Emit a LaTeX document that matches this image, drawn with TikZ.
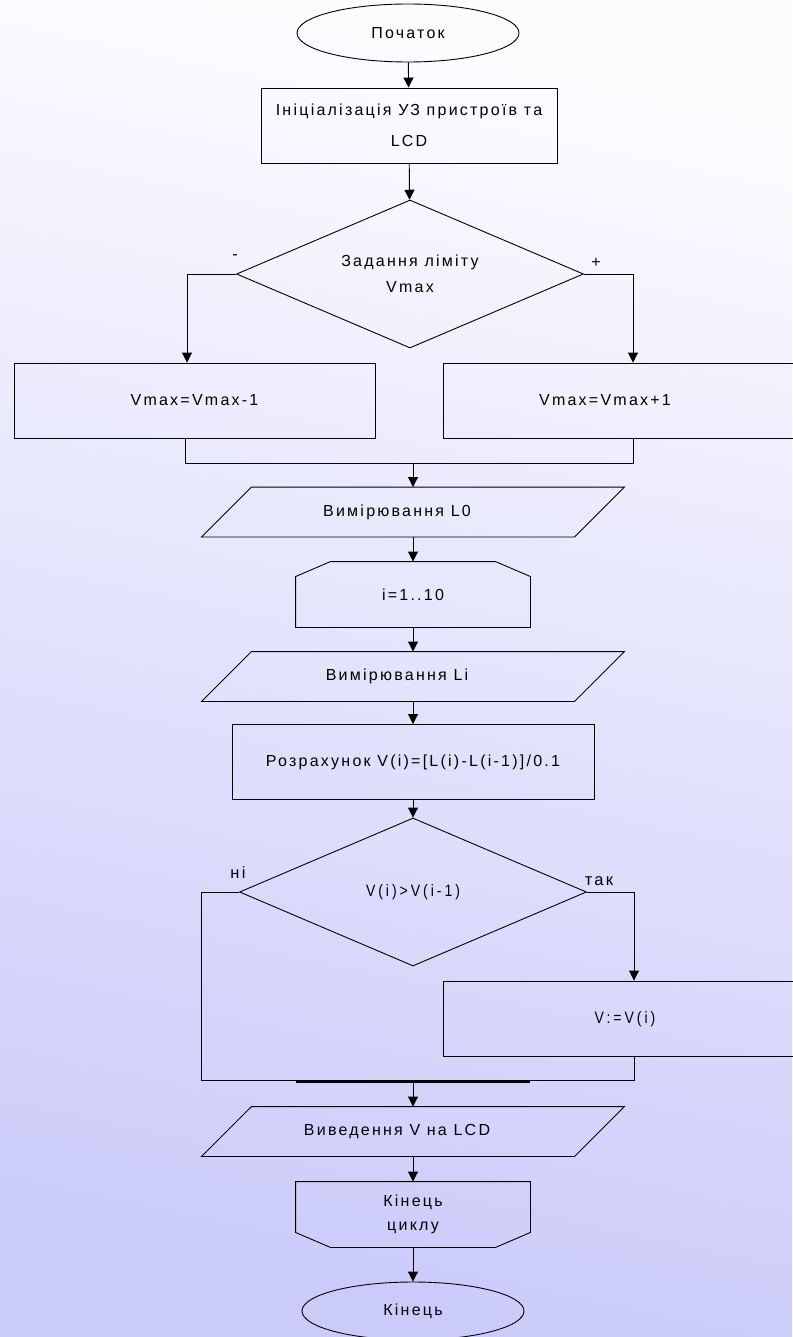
\documentclass[tikz,border=0pt]{standalone}
\usepackage{fontspec}
\usepackage{xcolor}
\setmainfont{Liberation Sans}
\newfontfamily\spaced{Liberation Sans}[LetterSpace=14]
\newfontfamily\narrowsp{Liberation Sans}[LetterSpace=18,FakeStretch=0.85]
\usetikzlibrary{arrows.meta,shapes.geometric}
\definecolor{bgtop}{RGB}{252,252,255}
\definecolor{bgbot}{RGB}{203,203,250}
\newcommand{\ioshape}[1]{\draw ([xshift=-25pt]#1.south west) -- ([xshift=-25pt]#1.south east) -- ([xshift=25pt]#1.north east) -- ([xshift=25pt]#1.north west) -- cycle;}
\newcommand{\loopopen}[1]{\draw (#1.south west) -- ([yshift=-15pt]#1.north west) -- ([xshift=35pt]#1.north west) -- ([xshift=-35pt]#1.north east) -- ([yshift=-15pt]#1.north east) -- (#1.south east) -- cycle;}
\newcommand{\loopclose}[1]{\draw (#1.north west) -- (#1.north east) -- ([yshift=15pt]#1.south east) -- ([xshift=-35pt]#1.south east) -- ([xshift=35pt]#1.south west) -- ([yshift=15pt]#1.south west) -- cycle;}

\begin{document}
\begin{tikzpicture}[x=1pt, y=-1pt, line width=0.9pt,
  every node/.style={font=\spaced\fontsize{16}{19}\selectfont, inner sep=0pt},
  arr/.style={-{Triangle[width=10pt,length=10pt]}},
  term/.style={ellipse, draw=black, minimum width=222pt, minimum height=58pt},
  block/.style={rectangle, draw=black, minimum height=75pt},
  cond/.style={diamond, aspect=2.34, draw=black, minimum width=347pt, minimum height=148pt},
  io/.style={rectangle, minimum width=372pt, minimum height=49pt, execute at begin node={\hspace*{-32pt}}},
  cyc/.style={rectangle, minimum width=234pt, minimum height=65pt},
  tag/.style={font=\spaced\fontsize{16.5}{19}\selectfont}]
% background
\shade[top color=bgtop, bottom color=bgbot, shading angle=-12] (0,0) rectangle (792,1337);
\useasboundingbox (0,0) rectangle (792,1337);
% Start and setup
\node[term] (start) at (408,33) {Початок};
\node[block, minimum width=296pt, align=center] (init) at (409,125.5) {Ініціалізація УЗ пристроїв та\\[12pt]LCD};
\draw[arr] (start) -- (init);
% Limit
\node[cond, align=center] (limit) at (410,274) {Задання ліміту\\[7pt]Vmax};
\draw[arr] (init) -- (limit);
\node (minus) at (235,257) {-};
\node (plus) at (596,263) {+};
\node[block, minimum width=361pt] (dec) at (194.5,400.5) {Vmax=Vmax-1};
\node[block, minimum width=380pt] (inc) at (633,400.5) {};
\node (inctxt) at (605,400.5) {Vmax=Vmax+1};
\coordinate (bl) at (187,274);
\coordinate (jl) at (185,463);
\coordinate (m1) at (413,463);
\draw[arr] (limit.west) -- (bl) -- (bl |- dec.north);
\draw[arr] (limit.east) -| (inc.north);
\draw (dec.south -| jl) -- (jl) -| (inc.south);
% Measuring loop
\node[io] (meas0) at (413,512) {Вимірювання L0};
\ioshape{meas0}
\draw[arr] (m1) -- (meas0);
\node[cyc] (loopA) at (413,594.5) {i=1..10};
\loopopen{loopA}
\draw[arr] (meas0) -- (loopA);
\node[io] (measi) at (413,676.5) {Вимірювання Li};
\ioshape{measi}
\draw[arr] (loopA) -- (measi);
\node[block, minimum width=362pt] (calc) at (413,762) {Розрахунок V(i)=[L(i)-L(i-1)]/0.1};
\draw[arr] (measi) -- (calc);
% Compare
\node[cond, font=\narrowsp\fontsize{16.5}{19}\selectfont] (cmp) at (413,892) {V(i)>V(i-1)};
\draw[arr] (calc) -- (cmp);
\node[tag] (no) at (238,873) {ні};
\node[tag] (yes) at (599,881) {так};
\node[block, minimum width=382pt] (upd) at (634,1018.5) {};
\node[font=\narrowsp\fontsize{16.5}{19}\selectfont] (updtxt) at (625,1019) {V:=V(i)};
\coordinate (nl) at (201,1080);
\coordinate (m2) at (413,1080);
\draw[arr] (cmp.east) -| (upd.north);
\draw (cmp.west) -| (nl) -| (upd.south);
\draw[line width=2pt] ([yshift=-1.5pt]loopA.west |- m2) -- ([yshift=-1.5pt]loopA.east |- m2);
% Output and end
\node[io] (out) at (413,1131.5) {Виведення V на LCD};
\ioshape{out}
\draw[arr] (m2) -- (out);
\node[cyc, align=center] (loopB) at (413,1214.5) {Кінець\\[5pt]циклу};
\loopclose{loopB}
\draw[arr] (out) -- (loopB);
\node[term] (end) at (413,1311) {Кінець};
\draw[arr] (loopB) -- (end);
\end{tikzpicture}
\end{document}
